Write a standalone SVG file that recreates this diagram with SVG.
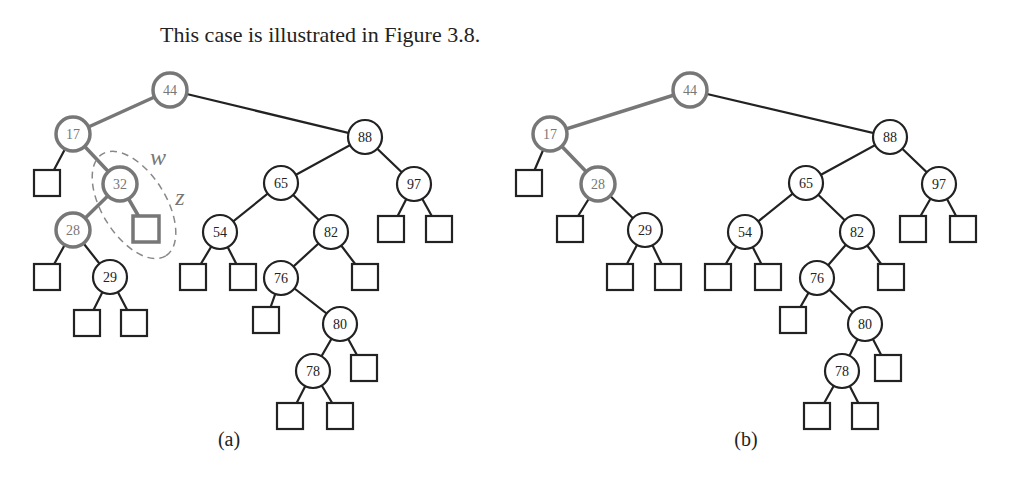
<svg xmlns="http://www.w3.org/2000/svg" width="1024" height="484" viewBox="0 0 1024 484">
<style>
.e{stroke:#222;stroke-width:2.2;fill:none}
.eg{stroke:#777;stroke-width:3.5;fill:none}
.n circle{fill:#fff;stroke:#222;stroke-width:2.2}
.g circle{fill:#fff;stroke:#777;stroke-width:3.5}
.sq{fill:#fff;stroke:#222;stroke-width:2.2}
.sqg{fill:#fff;stroke:#777;stroke-width:3.5}
text{font-family:"Liberation Serif",serif;font-size:14px;text-anchor:middle;fill:#222}
.g text{fill:#777}
</style>
<text x="160" y="42" style="font-size:22px;text-anchor:start">This case is illustrated in Figure 3.8.</text>
<g id="connectors">
<path class="eg" d="M170,90L73,134L120,184L73,230M120,184L146,229"/>
<path class="e" d="M73,134L47,183M170,90L365,137L281,183L220,232L193,277M220,232L243,277M281,183L331,232L281,278L266,320M331,232L365,277M281,278L340,324L313,371L290,416M313,371L340,416M340,324L364,368M365,137L414,184L391,229M414,184L439,229M73,230L47,277M73,230L110,277L87,323M110,277L134,323"/>
<path class="eg" d="M690,90L550,134L598,184"/>
<path class="e" d="M550,134L529,183M598,184L570,229M598,184L645,230L620,277M645,230L668,277M690,90L890,137L806,183L745,232L718,277M745,232L768,277M806,183L857,232L817,278L793,320M857,232L891,277M817,278L865,324L842,371L817,416M842,371L865,416M865,324L888,368M890,137L939,184L913,229M939,184L963,229"/>
</g>
<ellipse cx="134" cy="205" rx="60" ry="32" transform="rotate(58 134 205)" fill="none" stroke="#888" stroke-width="1.5" stroke-dasharray="7,5"/>
<text x="158" y="165" style="font-style:italic;font-size:24px;fill:#777">w</text>
<text x="180" y="205" style="font-style:italic;font-size:24px;fill:#777">z</text>
<g id="a44" class="g"><circle cx="170" cy="90" r="17"/><text x="170" y="95">44</text></g>
<g id="a17" class="g"><circle cx="73" cy="134" r="17"/><text x="73" y="139">17</text></g>
<g id="a32" class="g"><circle cx="120" cy="184" r="17"/><text x="120" y="189">32</text></g>
<g id="a28" class="g"><circle cx="73" cy="230" r="17"/><text x="73" y="235">28</text></g>
<g id="a88" class="n"><circle cx="365" cy="137" r="17"/><text x="365" y="142">88</text></g>
<g id="a65" class="n"><circle cx="281" cy="183" r="17"/><text x="281" y="188">65</text></g>
<g id="a97" class="n"><circle cx="414" cy="184" r="17"/><text x="414" y="189">97</text></g>
<g id="a54" class="n"><circle cx="220" cy="232" r="17"/><text x="220" y="237">54</text></g>
<g id="a82" class="n"><circle cx="331" cy="232" r="17"/><text x="331" y="237">82</text></g>
<g id="a29" class="n"><circle cx="110" cy="277" r="17"/><text x="110" y="282">29</text></g>
<g id="a76" class="n"><circle cx="281" cy="278" r="17"/><text x="281" y="283">76</text></g>
<g id="a80" class="n"><circle cx="340" cy="324" r="17"/><text x="340" y="329">80</text></g>
<g id="a78" class="n"><circle cx="313" cy="371" r="17"/><text x="313" y="376">78</text></g>
<g id="aleaves">
<rect class="sqg" x="133" y="216" width="26" height="26"/>
<rect class="sq" x="34" y="170" width="26" height="26"/>
<rect class="sq" x="34" y="264" width="26" height="26"/>
<rect class="sq" x="74" y="310" width="26" height="26"/>
<rect class="sq" x="121" y="310" width="26" height="26"/>
<rect class="sq" x="180" y="264" width="26" height="26"/>
<rect class="sq" x="230" y="264" width="26" height="26"/>
<rect class="sq" x="352" y="264" width="26" height="26"/>
<rect class="sq" x="253" y="307" width="26" height="26"/>
<rect class="sq" x="351" y="355" width="26" height="26"/>
<rect class="sq" x="277" y="403" width="26" height="26"/>
<rect class="sq" x="327" y="403" width="26" height="26"/>
<rect class="sq" x="378" y="216" width="26" height="26"/>
<rect class="sq" x="426" y="216" width="26" height="26"/>
</g>
<text x="229" y="446" style="font-size:20px">(a)</text>
<g id="b44" class="g"><circle cx="690" cy="90" r="17"/><text x="690" y="95">44</text></g>
<g id="b17" class="g"><circle cx="550" cy="134" r="17"/><text x="550" y="139">17</text></g>
<g id="b28" class="g"><circle cx="598" cy="184" r="17"/><text x="598" y="189">28</text></g>
<g id="b88" class="n"><circle cx="890" cy="137" r="17"/><text x="890" y="142">88</text></g>
<g id="b65" class="n"><circle cx="806" cy="183" r="17"/><text x="806" y="188">65</text></g>
<g id="b97" class="n"><circle cx="939" cy="184" r="17"/><text x="939" y="189">97</text></g>
<g id="b29" class="n"><circle cx="645" cy="230" r="17"/><text x="645" y="235">29</text></g>
<g id="b54" class="n"><circle cx="745" cy="232" r="17"/><text x="745" y="237">54</text></g>
<g id="b82" class="n"><circle cx="857" cy="232" r="17"/><text x="857" y="237">82</text></g>
<g id="b76" class="n"><circle cx="817" cy="278" r="17"/><text x="817" y="283">76</text></g>
<g id="b80" class="n"><circle cx="865" cy="324" r="17"/><text x="865" y="329">80</text></g>
<g id="b78" class="n"><circle cx="842" cy="371" r="17"/><text x="842" y="376">78</text></g>
<g id="bleaves">
<rect class="sq" x="516" y="170" width="26" height="26"/>
<rect class="sq" x="557" y="216" width="26" height="26"/>
<rect class="sq" x="607" y="264" width="26" height="26"/>
<rect class="sq" x="655" y="264" width="26" height="26"/>
<rect class="sq" x="705" y="264" width="26" height="26"/>
<rect class="sq" x="755" y="264" width="26" height="26"/>
<rect class="sq" x="878" y="264" width="26" height="26"/>
<rect class="sq" x="780" y="307" width="26" height="26"/>
<rect class="sq" x="875" y="355" width="26" height="26"/>
<rect class="sq" x="804" y="403" width="26" height="26"/>
<rect class="sq" x="852" y="403" width="26" height="26"/>
<rect class="sq" x="900" y="216" width="26" height="26"/>
<rect class="sq" x="950" y="216" width="26" height="26"/>
</g>
<text x="746" y="446" style="font-size:20px">(b)</text>
</svg>
